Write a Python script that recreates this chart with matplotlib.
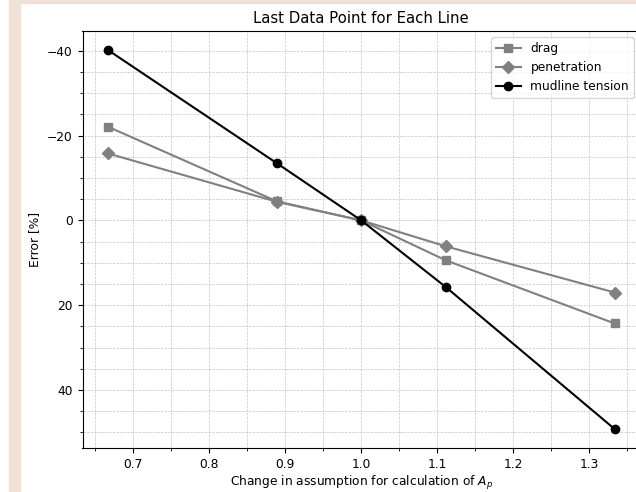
import matplotlib
matplotlib.use("Agg")
import matplotlib.pyplot as plt
from matplotlib.patches import Rectangle
from matplotlib.ticker import MultipleLocator

# ratio of assumed A_p to the reference value
change = [2 / 3, 8 / 9, 1.0, 10 / 9, 4 / 3]

# error of the last data point of each line, in percent
drag = [-22.1, -4.5, 0.0, 9.4, 24.3]
penetration = [-15.8, -4.4, 0.0, 6.1, 17.0]
mudline_tension = [-40.2, -13.5, 0.0, 15.7, 49.2]

plt.rcParams["font.size"] = 8.8

fig = plt.figure(figsize=(6.36, 4.92), dpi=100)

# page background strip on the left and along the top
fig.patches.append(Rectangle((9 / 636, 0), 11 / 636, 1, transform=fig.transFigure,
                             color="#efe1d6", zorder=0))
fig.patches.append(Rectangle((20 / 636, 1 - 3 / 492), 1, 3 / 492, transform=fig.transFigure,
                             color="#efe1d6", zorder=0))

ax = fig.add_axes([82.5 / 636, 1 - 448 / 492, (640 - 82.5) / 636, (448 - 31) / 492])

ax.plot(change, drag, marker="s", color="gray", label="drag")
ax.plot(change, penetration, marker="D", color="gray", label="penetration")
ax.plot(change, mudline_tension, marker="o", color="black", label="mudline tension")

ax.invert_yaxis()
ax.xaxis.set_minor_locator(MultipleLocator(0.05))
ax.yaxis.set_minor_locator(MultipleLocator(5))
ax.grid(True, which="both", linestyle="--", linewidth=0.5, color="#c4c4c4")

ax.set_title("Last Data Point for Each Line", fontsize=10.7)
ax.set_xlabel("Change in assumption for calculation of $A_p$", labelpad=2.5)
ax.set_ylabel("Error [%]")
ax.legend(loc="upper right")

fig.savefig("out.png", dpi=100)
